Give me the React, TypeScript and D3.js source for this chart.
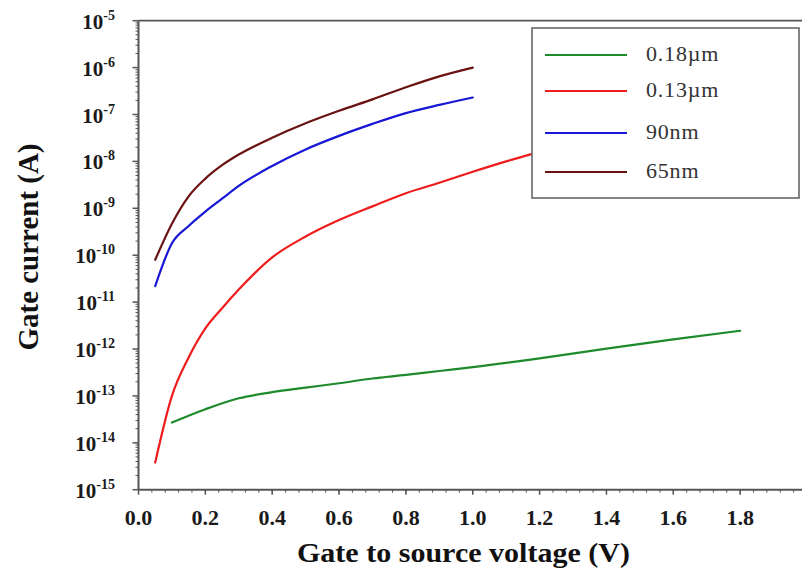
import React from "react";
import * as d3 from "d3";

// Gate leakage current vs gate-source voltage for four technology nodes
const voltages = [0.05, 0.1, 0.15, 0.2, 0.25, 0.3, 0.4, 0.5, 0.6, 0.7, 0.8, 0.9, 1.0];
const redVoltages = [0.05, 0.1, 0.15, 0.2, 0.25, 0.3, 0.4, 0.5, 0.6, 0.7, 0.8, 0.9, 1.0, 1.1, 1.2];
const greenVoltages = [0.1, 0.2, 0.3, 0.4, 0.5, 0.6, 0.7, 0.8, 0.9, 1.0, 1.2, 1.4, 1.6, 1.8];

const current018 = [2.7e-14, 5.2e-14, 8.9e-14, 1.2e-13, 1.5e-13, 1.86e-13, 2.35e-13, 2.8e-13, 3.4e-13, 4.1e-13, 6.3e-13, 1.02e-12, 1.6e-12, 2.45e-12];
const current013 = [3.8e-15, 1e-13, 6.6e-13, 2.75e-12, 7.4e-12, 1.85e-11, 9e-11, 2.5e-10, 5.6e-10, 1.1e-9, 2.1e-9, 3.5e-9, 6e-9, 1e-8, 1.6e-8];
const current90 = [2.2e-11, 1.8e-10, 4.2e-10, 8.5e-10, 1.6e-9, 3.0e-9, 8e-9, 1.8e-8, 3.5e-8, 6.3e-8, 1.07e-7, 1.6e-7, 2.3e-7];
const current65 = [8e-11, 4.7e-10, 1.8e-9, 4.3e-9, 8.3e-9, 1.4e-8, 3.2e-8, 6.5e-8, 1.2e-7, 2.1e-7, 3.8e-7, 6.5e-7, 1.0e-6];

const seriesNames = ["0.18\u00b5m", "0.13\u00b5m", "90nm", "65nm"];
const seriesColors = ["#1f8a2c", "#ee1c1c", "#1717d6", "#6a1212"];

const xTickValues = [0, 0.2, 0.4, 0.6, 0.8, 1.0, 1.2, 1.4, 1.6, 1.8, 2.0];
const xTickLabels = ["0.0", "0.2", "0.4", "0.6", "0.8", "1.0", "1.2", "1.4", "1.6", "1.8"];
const yExponents = [-5, -6, -7, -8, -9, -10, -11, -12, -13, -14, -15];

const W = 802;
const H = 575;
const serif = "Liberation Serif, Times New Roman, Tinos, serif";

export default function App() {
  const x = d3.scaleLinear().domain([0, 2]).range([138.5, 807]);
  const y = d3.scaleLog().domain([1e-15, 1e-5]).range([489.7, 20.7]);

  const series = [
    { xs: greenVoltages, ys: current018 },
    { xs: redVoltages, ys: current013 },
    { xs: voltages, ys: current90 },
    { xs: voltages, ys: current65 },
  ];

  const line = d3
    .line<[number, number]>()
    .x((d) => x(d[0]))
    .y((d) => y(d[1]))
    .curve(d3.curveMonotoneX);

  const x0 = x(0);
  const yBottom = y(1e-15);
  const yTop = y(1e-5);

  // minor x ticks every 0.04
  const xMinor = d3.range(0, 51).map((i) => i * 0.04).filter((v) => x(v) <= W);
  // minor log ticks 2..9 per decade
  const yMinor: number[] = [];
  for (let e = -15; e < -5; e++) {
    for (let m = 2; m <= 9; m++) yMinor.push(m * Math.pow(10, e));
  }

  const axisColor = "#555";
  const legendRows = [55, 91, 133, 172];

  return (
    <svg
      width={W}
      height={H}
      style={{ position: "absolute", left: 0, top: 0, background: "#fff" }}
      fontFamily={serif}
    >
      <rect x={0} y={0} width={W} height={H} fill="#fff" />

      {/* data curves */}
      {series.map((s, i) => (
        <path
          key={i}
          d={line(s.xs.map((v, j) => [v, s.ys[j]] as [number, number])) || ""}
          fill="none"
          stroke={seriesColors[i]}
          strokeWidth={2.2}
          strokeLinejoin="round"
          strokeLinecap="round"
        />
      ))}

      {/* frame: top border, left axis, bottom axis */}
      <line x1={x0} x2={W} y1={yTop} y2={yTop} stroke={axisColor} strokeWidth={1.8} />
      <line x1={x0} x2={x0} y1={yTop} y2={yBottom} stroke={axisColor} strokeWidth={2} />
      <line x1={x0} x2={W} y1={yBottom} y2={yBottom} stroke={axisColor} strokeWidth={2} />

      {/* y ticks */}
      {yMinor.map((v, i) => (
        <line key={"ym" + i} x1={x0 - 3} x2={x0} y1={y(v)} y2={y(v)} stroke={axisColor} strokeWidth={1} />
      ))}
      {yExponents.map((e) => (
        <line key={"yM" + e} x1={x0 - 6} x2={x0} y1={y(Math.pow(10, e))} y2={y(Math.pow(10, e))} stroke={axisColor} strokeWidth={1.5} />
      ))}
      {yExponents.map((e) => (
        <text
          key={"yl" + e}
          x={115}
          y={y(Math.pow(10, e)) + 8}
          textAnchor="end"
          fontWeight="bold"
          fontSize={21}
          fill="#1a1a1a"
        >
          10
          <tspan fontSize={14} dy={-9}>
            {String(e)}
          </tspan>
        </text>
      ))}

      {/* x ticks */}
      {xMinor.map((v, i) => (
        <line key={"xm" + i} x1={x(v)} x2={x(v)} y1={yBottom} y2={yBottom + 3} stroke={axisColor} strokeWidth={1} />
      ))}
      {xTickValues.map((v) => (
        <line key={"xM" + v} x1={x(v)} x2={x(v)} y1={yBottom} y2={yBottom + 5} stroke={axisColor} strokeWidth={1.5} />
      ))}
      {xTickLabels.map((lab, i) => (
        <text
          key={"xl" + lab}
          x={x(xTickValues[i])}
          y={525}
          textAnchor="middle"
          fontWeight="bold"
          fontSize={22}
          fill="#1a1a1a"
        >
          {lab}
        </text>
      ))}

      {/* axis titles */}
      <text
        x={463.5}
        y={562}
        textAnchor="middle"
        fontWeight="bold"
        fontSize={28}
        fill="#111"
        textLength={333}
        lengthAdjust="spacingAndGlyphs"
      >
        Gate to source voltage (V)
      </text>
      <text
        transform="translate(38,247) rotate(-90)"
        textAnchor="middle"
        fontWeight="bold"
        fontSize={29}
        fill="#111"
        textLength={207}
        lengthAdjust="spacingAndGlyphs"
      >
        Gate current (A)
      </text>

      {/* legend */}
      <rect x={532} y={28} width={267} height={170} fill="#fff" stroke="#666" strokeWidth={1.6} />
      {seriesNames.map((name, i) => (
        <g key={name}>
          <line x1={545} x2={627} y1={legendRows[i]} y2={legendRows[i]} stroke={seriesColors[i]} strokeWidth={2.2} />
          <text x={646} y={legendRows[i] + 6} fontSize={22} fill="#333" letterSpacing={0.8}>
            {name}
          </text>
        </g>
      ))}
    </svg>
  );
}
